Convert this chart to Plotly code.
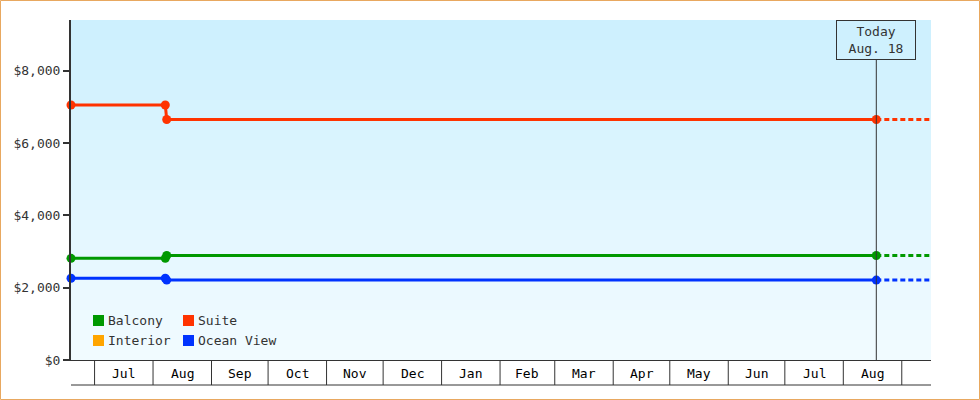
import pandas as pd
import plotly.graph_objects as go

# price history per cabin type (USD)
balcony_dates = ["2023-06-18 12:00", "2023-08-07 12:00", "2023-08-08 06:00", "2024-08-18 12:00"]
balcony_prices = [2810, 2810, 2890, 2890]

suite_dates = ["2023-06-18 12:00", "2023-08-07 12:00", "2023-08-08 06:00", "2024-08-18 12:00"]
suite_prices = [7050, 7050, 6650, 6650]

ocean_dates = ["2023-06-18 12:00", "2023-08-07 12:00", "2023-08-08 06:00", "2024-08-18 12:00"]
ocean_prices = [2260, 2260, 2210, 2210]

interior_dates = []
interior_prices = []

TODAY = "2024-08-18 12:00"
TODAY_LABEL = "Today<br>Aug. 18"
X_START = "2023-06-18 12:00"
X_END = "2024-09-16 12:00"
Y_TICKS = [0, 2000, 4000, 6000, 8000]
Y_TICK_LABELS = ["$0", "$2,000", "$4,000", "$6,000", "$8,000"]
Y_MAX = 9400

SERIES = [
    ("Balcony", balcony_dates, balcony_prices, "#009900"),
    ("Interior", interior_dates, interior_prices, "#ffa500"),
    ("Suite", suite_dates, suite_prices, "#ff3300"),
    ("Ocean View", ocean_dates, ocean_prices, "#0033ff"),
]
LEGEND_ORDER = ["Balcony", "Suite", "Interior", "Ocean View"]

FONT = "DejaVu Sans Mono"
INK = "#333333"

# plot area in pixels (980x400 page)
L, R, T, B = 71, 49, 20, 40
W = 980 - L - R
H = 400 - T - B


def px_x(px):
    return (px - L) / W


def px_y(py):
    return (400 - B - py) / H


fig = go.Figure()

for name, dates, prices, color in SERIES:
    if not dates:
        continue
    fig.add_trace(go.Scatter(
        x=dates, y=prices, mode="lines+markers", name=name,
        line=dict(color=color, width=3),
        marker=dict(color=color, size=9),
        cliponaxis=False,
        showlegend=False, hoverinfo="skip",
    ))
    # projection after today
    fig.add_trace(go.Scatter(
        x=[dates[-1], X_END], y=[prices[-1], prices[-1]], mode="lines",
        line=dict(color=color, width=3, dash="5px,3px"),
        showlegend=False, hoverinfo="skip",
    ))

shapes = []

# vertical gradient background
top = (204, 240, 254)
bot = (242, 251, 255)
n = 34
for i in range(n):
    t = (i + 0.5) / n
    c = tuple(round(bot[k] + (top[k] - bot[k]) * t) for k in range(3))
    shapes.append(dict(type="rect", xref="paper", yref="paper",
                       x0=0, x1=1, y0=i / n, y1=(i + 1) / n,
                       fillcolor="rgb(%d,%d,%d)" % c, line=dict(width=0), layer="below"))

# month boxes under the axis
months = pd.date_range("2023-07-01", "2024-09-01", freq="MS")
for m in months:
    shapes.append(dict(type="line", xref="x", yref="paper",
                       x0=m, x1=m, y0=0, y1=px_y(385),
                       line=dict(color=INK, width=1)))
shapes.append(dict(type="line", xref="paper", yref="paper",
                   x0=0, x1=1, y0=px_y(385), y1=px_y(385),
                   line=dict(color=INK, width=1)))

# today marker line
shapes.append(dict(type="line", xref="x", yref="paper",
                   x0=TODAY, x1=TODAY, y0=0, y1=px_y(60),
                   line=dict(color=INK, width=1)))

# page border
shapes.append(dict(type="rect", xref="paper", yref="paper",
                   x0=px_x(0.5), x1=px_x(979.5), y0=px_y(399.5), y1=px_y(0.5),
                   line=dict(color="#e8a860", width=1)))

annotations = []
for m in months[:-1]:
    mid = m + (m + pd.offsets.MonthBegin(1) - m) / 2
    annotations.append(dict(x=mid, y=px_y(373), xref="x", yref="paper",
                            text=m.strftime("%b"), showarrow=False,
                            font=dict(family=FONT, size=13, color="#000000"),
                            xanchor="center", yanchor="middle"))

annotations.append(dict(x=TODAY, y=1, xref="x", yref="paper", text=TODAY_LABEL,
                        showarrow=False, xanchor="center", yanchor="top",
                        width=78, height=38, borderwidth=1, borderpad=0,
                        bordercolor=INK, font=dict(family=FONT, size=13, color=INK)))

# legend: 2 columns of square swatches
colors = {s[0]: s[3] for s in SERIES}
cols = [93, 183]
rows = [320.5, 340.5]
for i, name in enumerate(LEGEND_ORDER):
    cx = cols[i % 2]
    cy = rows[i // 2]
    shapes.append(dict(type="rect", xref="paper", yref="paper",
                       x0=px_x(cx), x1=px_x(cx + 11), y0=px_y(cy + 5.5), y1=px_y(cy - 5.5),
                       fillcolor=colors[name], line=dict(width=0)))
    annotations.append(dict(x=px_x(cx + 12.5), y=px_y(cy), xref="paper", yref="paper",
                            text=name, showarrow=False, xanchor="left", yanchor="middle",
                            font=dict(family=FONT, size=13, color=INK)))

fig.update_layout(
    width=980, height=400,
    margin=dict(l=L, r=R, t=T, b=B),
    paper_bgcolor="#ffffff",
    plot_bgcolor="#e0f5fe",
    font=dict(family=FONT, size=13, color=INK),
    shapes=shapes,
    annotations=annotations,
    showlegend=False,
    xaxis=dict(range=[X_START, X_END], type="date", showgrid=False, zeroline=False,
               showticklabels=False, ticks="", showline=True, linecolor=INK, linewidth=1),
    yaxis=dict(range=[0, Y_MAX], tickvals=Y_TICKS, ticktext=Y_TICK_LABELS,
               showgrid=False, zeroline=False, showline=True, linecolor=INK, linewidth=2,
               ticks="outside", ticklen=6, tickwidth=2, tickcolor=INK,
               tickfont=dict(family=FONT, size=13, color=INK)),
)

# drop the default page margin so the chart fills the window exactly
fig.write_html("out.html", config={"displayModeBar": False},
               post_script="document.body.style.margin='0';")
